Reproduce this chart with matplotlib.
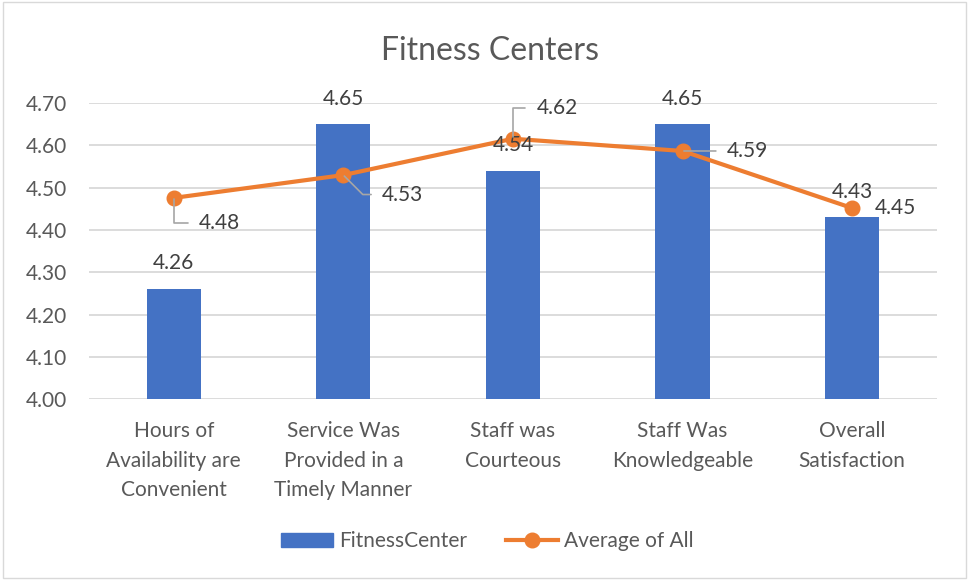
import matplotlib
matplotlib.use("Agg")
import matplotlib.pyplot as plt
from matplotlib.patches import Rectangle
from matplotlib.lines import Line2D

plt.rcParams["font.family"] = ["Lato", "DejaVu Sans"]

categories = [
    "Hours of\nAvailability are\nConvenient",
    "Service Was\nProvided in a\nTimely Manner",
    "Staff was\nCourteous",
    "Staff Was\nKnowledgeable",
    "Overall\nSatisfaction",
]
fitness_center = [4.26, 4.65, 4.54, 4.65, 4.43]
average_all = [4.476, 4.530, 4.616, 4.587, 4.452]
y_ticks = [4.00, 4.10, 4.20, 4.30, 4.40, 4.50, 4.60, 4.70]

BLUE = "#4472C4"
ORANGE = "#ED7D31"
TEXT = "#595959"
LABEL = "#404040"
GRID = "#D9D9D9"
LEADER = "#A6A6A6"
FS = 15

fig = plt.figure(figsize=(9.69, 5.8), dpi=100)
fig.patches.append(Rectangle((0.003, 0.003), 0.994, 0.994, transform=fig.transFigure,
                             fill=False, edgecolor="#D9D9D9", linewidth=1.0))

ax = fig.add_axes([0.0918, 0.3120, 0.8751, 0.5100])
x = list(range(len(categories)))

ax.bar(x, fitness_center, width=0.32, color=BLUE, zorder=2)
ax.plot(x, average_all, color=ORANGE, linewidth=3.0, marker="o", markersize=10.5, zorder=3)

ax.set_xlim(-0.5, len(categories) - 0.5)
ax.set_ylim(4.0, 4.7)
ax.set_yticks(y_ticks)
ax.set_yticklabels([f"{v:.2f}" for v in y_ticks])
ax.set_xticks(x)
ax.set_xticklabels(categories, linespacing=1.6)
ax.tick_params(axis="both", length=0, labelsize=FS, colors=TEXT)
ax.tick_params(axis="x", pad=16)
ax.tick_params(axis="y", pad=16)
ax.grid(axis="y", color=GRID, linewidth=1.3, zorder=0)
for side in ["top", "right", "left", "bottom"]:
    ax.spines[side].set_visible(False)

# bar labels
for xi, v in zip(x, fitness_center):
    ax.annotate(f"{v:.2f}", (xi, v), xytext=(0, 18.5), textcoords="offset points",
                ha="center", va="center", fontsize=FS, color=LABEL, zorder=4)


def leader(angle_b=None):
    style = dict(arrowstyle="-", color=LEADER, lw=1.2, shrinkA=6, shrinkB=1,
                 relpos=(0, 0.5))
    if angle_b is not None:
        style["connectionstyle"] = f"angle,angleA=0,angleB={angle_b},rad=0"
    return style


# line labels with leader lines (offsets in points)
label_specs = [
    ((18, -18), leader(90)),
    ((28, -14), leader(-45)),
    ((17, 22), leader(90)),
    ((32, 0), leader()),
    ((16, 0), None),
]
for xi, v, (off, arrow) in zip(x, average_all, label_specs):
    ax.annotate(f"{v:.2f}", (xi, v), xytext=off, textcoords="offset points",
                ha="left", va="center", fontsize=FS, color=LABEL, zorder=4,
                arrowprops=arrow)

fig.text(0.5057, 0.912, "Fitness Centers", ha="center", va="center", fontsize=23, color=TEXT)

handles = [
    Rectangle((0, 0), 1, 1, color=BLUE),
    Line2D([0], [0], color=ORANGE, linewidth=3.0, marker="o", markersize=10.5),
]
fig.legend(handles, ["FitnessCenter", "Average of All"], loc="center",
           bbox_to_anchor=(0.503, 0.067), ncol=2, frameon=False, fontsize=FS,
           labelcolor=TEXT, handlelength=2.5, handletextpad=0.3, columnspacing=1.85)

fig.savefig("out.png", dpi=100)
